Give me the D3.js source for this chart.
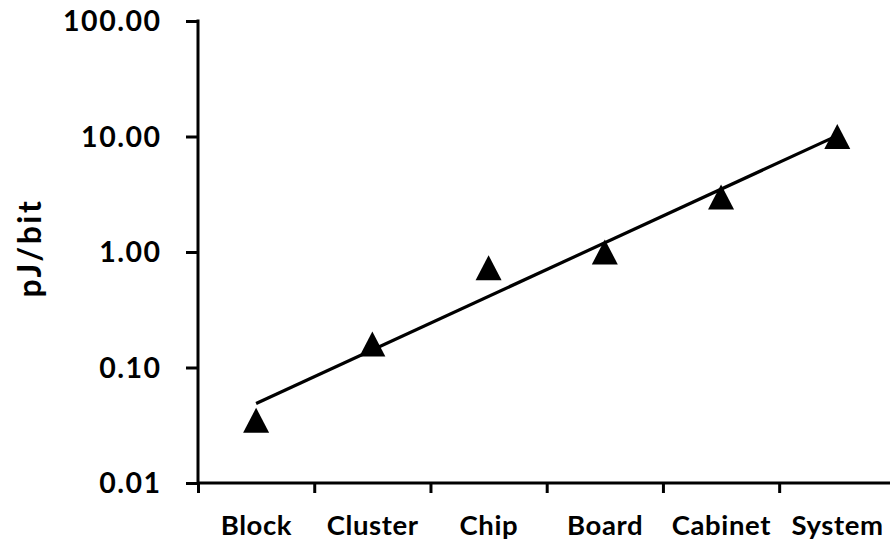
<!DOCTYPE html>
<html>
<head>
<meta charset="utf-8">
<script src="https://cdn.jsdelivr.net/npm/d3@7/dist/d3.min.js"></script>
<style>
  html, body { margin: 0; padding: 0; background: #fff; }
  svg { display: block; }
  text { font-family: Lato, "Open Sans", sans-serif; font-weight: bold; fill: #000; }
</style>
</head>
<body>
<svg id="chart" width="890" height="545"></svg>
<script>
// Energy per bit at each level of the system hierarchy
const categories = ["Block", "Cluster", "Chip", "Board", "Cabinet", "System"];
const energyPerBit = [0.035, 0.16, 0.73, 1.0, 3.0, 10.0];
const yTickValues = [0.01, 0.1, 1, 10, 100];
const yAxisTitle = "pJ/bit";

const svg = d3.select("#chart");

const plot = { left: 198, right: 895.4, top: 21, bottom: 483 };

const x = d3.scaleBand()
  .domain(categories)
  .range([plot.left, plot.right])
  .paddingInner(0).paddingOuter(0);

// category boundaries for the tick marks
const xEdges = d3.scaleLinear()
  .domain([0, categories.length])
  .range([plot.left, plot.right]);

const y = d3.scaleLog()
  .domain([0.01, 100])
  .range([plot.bottom, plot.top]);

const cx = c => x(c) + x.bandwidth() / 2;

// Exponential trend line: least squares fit on log10 of the values
const idx = categories.map((_, i) => i + 1);
const logs = energyPerBit.map(v => Math.log10(v));
const mx = d3.mean(idx), my = d3.mean(logs);
const slope = d3.sum(idx, (xi, i) => (xi - mx) * (logs[i] - my)) / d3.sum(idx, xi => (xi - mx) ** 2);
const intercept = my - slope * mx;
const trend = categories.map((c, i) => ({ c, v: Math.pow(10, intercept + slope * (i + 1)) }));

svg.append("path")
  .datum([trend[0], trend[trend.length - 1]])
  .attr("fill", "none")
  .attr("stroke", "#000")
  .attr("stroke-width", 3.2)
  .attr("d", d3.line().x(d => cx(d.c)).y(d => y(d.v)));

// Y axis
const yAxis = d3.axisLeft(y)
  .tickValues(yTickValues)
  .tickSize(12)
  .tickFormat(d3.format(".2f"));

const yLabelSpacing = 1.5;
const gy = svg.append("g")
  .attr("transform", `translate(${plot.left},0)`)
  .call(yAxis);
gy.select(".domain").remove();
gy.selectAll(".tick line").attr("stroke", "#000").attr("stroke-width", 3);
gy.selectAll(".tick text")
  .attr("x", -38 + yLabelSpacing)
  .attr("dy", "0.35em")
  .attr("font-size", 28.5)
  .attr("letter-spacing", yLabelSpacing)
  .attr("font-family", "Lato, sans-serif")
  .attr("font-weight", "bold");

svg.append("line")
  .attr("x1", plot.left).attr("x2", plot.left)
  .attr("y1", plot.top - 1.5).attr("y2", plot.bottom)
  .attr("stroke", "#000").attr("stroke-width", 3);

// X axis: line, boundary ticks, centered labels
const gx = svg.append("g")
  .attr("transform", `translate(0,${plot.bottom})`)
  .call(d3.axisBottom(xEdges).tickValues(d3.range(0, categories.length + 1)).tickSize(10).tickFormat(""));
gx.select(".domain").remove();
gx.selectAll(".tick line").attr("stroke", "#000").attr("stroke-width", 3);

svg.append("line")
  .attr("x1", plot.left).attr("x2", plot.right)
  .attr("y1", plot.bottom).attr("y2", plot.bottom)
  .attr("stroke", "#000").attr("stroke-width", 3);

const xLabelSpacing = 0.6;
const gxl = svg.append("g")
  .attr("transform", `translate(0,${plot.bottom})`)
  .call(d3.axisBottom(x).tickSize(0));
gxl.select(".domain").remove();
gxl.selectAll(".tick text")
  .attr("x", xLabelSpacing / 2)
  .attr("y", 52)
  .attr("dy", 0)
  .attr("font-size", 27.5)
  .attr("letter-spacing", xLabelSpacing)
  .attr("font-family", "Lato, sans-serif")
  .attr("font-weight", "bold");

// Triangle markers centred on each value
const triW = 26, triH = 25;
svg.append("g").selectAll("path")
  .data(categories.map((c, i) => ({ c, v: energyPerBit[i] })))
  .join("path")
  .attr("fill", "#000")
  .attr("d", d => {
    const px = cx(d.c), py = y(d.v);
    return `M${px},${py - triH / 2}L${px + triW / 2},${py + triH / 2}L${px - triW / 2},${py + triH / 2}Z`;
  });

// Y axis title
svg.append("text")
  .attr("transform", "translate(41,248) rotate(-90)")
  .attr("text-anchor", "middle")
  .attr("font-size", 32)
  .attr("letter-spacing", 2.5)
  .text(yAxisTitle);
</script>
</body>
</html>
